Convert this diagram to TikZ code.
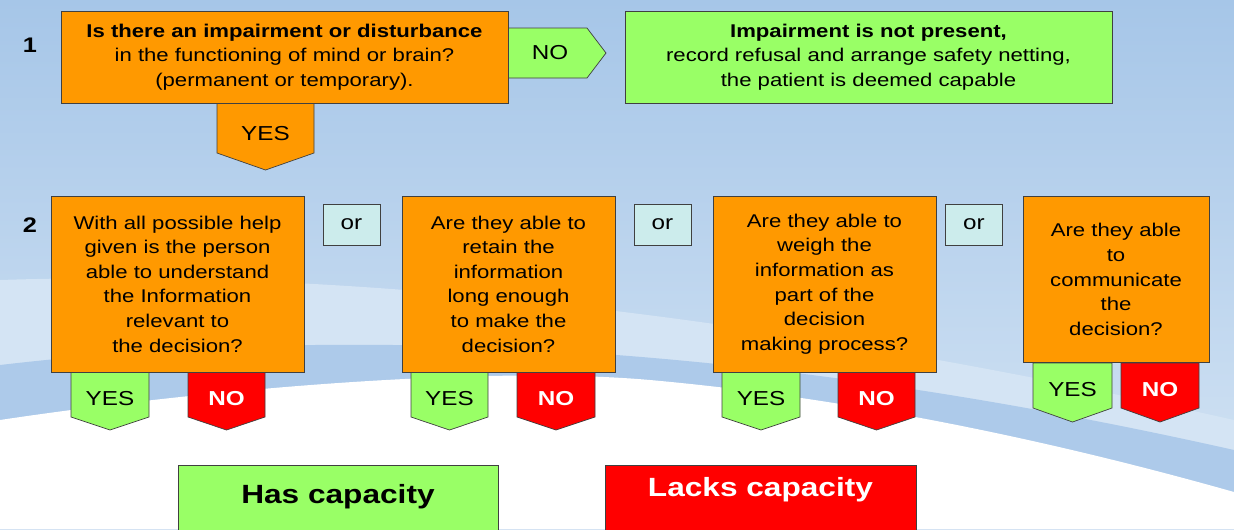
\documentclass[tikz,border=0pt]{standalone}
\usepackage{fontspec}
\setmainfont[FakeStretch=1.2]{Liberation Sans}
\definecolor{orx}{RGB}{255,153,0}
\definecolor{grx}{RGB}{153,255,102}
\definecolor{rdx}{RGB}{255,0,0}
\definecolor{cyx}{RGB}{204,236,236}
\definecolor{skx}{RGB}{166,198,232}
\definecolor{pax}{RGB}{212,228,244}
\colorlet{bdx}{black!75}
\tikzset{
    quest/.style={draw=bdx,fill=orx,align=center,inner sep=0pt,font=\fontsize{10.5}{14}\selectfont},
    orbox/.style={draw=bdx,fill=cyx,inner sep=0pt,minimum width=1.14cm,minimum height=0.82cm,font=\fontsize{11.5}{14}\selectfont},
    numlbl/.style={inner sep=0pt,font=\fontsize{12}{14}\selectfont\bfseries},
    tagline/.style={draw=bdx,line join=miter},
    yestxt/.style={inner sep=0pt,font=\fontsize{11.5}{14}\selectfont},
    notxt/.style={inner sep=0pt,text=white,font=\fontsize{11.5}{14}\selectfont\bfseries},
    endbox/.style={draw=bdx,inner sep=0pt,minimum height=1.6cm},
    endtxt/.style={inner sep=0pt,font=\fontsize{15}{18}\selectfont\bfseries}
}
\begin{document}
\begin{tikzpicture}[x=0.02cm,y=-0.02cm]
        \useasboundingbox (0,0) rectangle (1234,529);
        \shade [top color=skx,bottom color=pax] (0,0) rectangle (1234,529);
        \fill [pax] (0,280) .. controls (300,270) and (700,300) .. (1234,420)
            -- (1234,529) -- (0,529) -- cycle;
        \fill [skx!85!pax] (0,365) .. controls (300,330) and (700,330) .. (1234,450)
            -- (1234,529) -- (0,529) -- cycle;
        \fill [white] (0,420) .. controls (200,390) and (480,365) .. (650,380)
            .. controls (850,398) and (1050,440) .. (1234,492)
            -- (1234,529) -- (0,529) -- cycle;
        \foreach \xl/\xr/\yt/\ys/\yp/\col/\sty/\txt/\nm in {
            217/314/103/153/170/orx/yestxt/YES/tyes,
            71/149/372/417/430/grx/yestxt/YES/yund,
            188/265/372/417/430/rdx/notxt/NO/nund,
            411/488/372/417/430/grx/yestxt/YES/yret,
            517/595/372/417/430/rdx/notxt/NO/nret,
            722/800/372/417/430/grx/yestxt/YES/ywgh,
            838/915/372/417/430/rdx/notxt/NO/nwgh,
            1033/1112/363/408/422/grx/yestxt/YES/ycom,
            1121/1199/363/408/422/rdx/notxt/NO/ncom} {
            \draw [tagline,fill=\col] (\xl,\yt) -- (\xr,\yt) -- (\xr,\ys)
                -- ({(\xl+\xr)/2},\yp) -- (\xl,\ys) -- cycle;
            \node [\sty] (\nm) at ({(\xl+\xr)/2},{(\yt+\yp)/2-2.5}) {\txt};
        }
        \draw [tagline,fill=grx] (508,28) -- (587,28) -- (606,53) -- (587,78) -- (508,78) -- cycle;
        \node [yestxt] (tno) at (550,53) {NO};
        \node [numlbl] (n1) at (30,45) {1};
        \node [numlbl] (n2) at (30,225) {2};
        \node [quest,minimum width=8.94cm,minimum height=1.84cm] (qimp) at (284.5,57)
            {{\bfseries Is there an impairment or disturbance}\\in the functioning of mind or brain?\\(permanent or temporary).};
        \node [quest,fill=grx,minimum width=9.74cm,minimum height=1.84cm] (notp) at (868.5,57)
            {{\bfseries Impairment is not present,}\\record refusal and arrange safety netting,\\the patient is deemed capable};
        \node [quest,minimum width=5.06cm,minimum height=3.52cm] (qund) at (177.5,284)
            {With all possible help\\given is the person\\able to understand\\the Information\\relevant to\\the decision?};
        \node [quest,minimum width=4.26cm,minimum height=3.52cm] (qret) at (508.5,284)
            {Are they able to\\retain the\\information\\long enough\\to make the\\decision?};
        \node [quest,minimum width=4.46cm,minimum height=3.52cm] (qwgh) at (824.5,284)
            {Are they able to\\weigh the\\information as\\part of the\\decision\\making process?};
        \node [quest,minimum width=3.72cm,minimum height=3.32cm] (qcom) at (1116,279.5)
            {Are they able\\to\\communicate\\the\\decision?};
        \node [orbox] (or1) at (351.5,224.5) {or};
        \node [orbox] (or2) at (662.5,224.5) {or};
        \node [orbox] (or3) at (974,224.5) {or};
        \node [endbox,fill=grx,minimum width=6.4cm] (has) at (338,505) {};
        \node [endtxt] (hastxt) at (338,497) {Has capacity};
        \node [endbox,fill=rdx,minimum width=6.22cm] (lacks) at (760.5,505) {};
        \node [endtxt,text=white] (lackstxt) at (760.5,490) {Lacks capacity};
    \end{tikzpicture}
\end{document}
